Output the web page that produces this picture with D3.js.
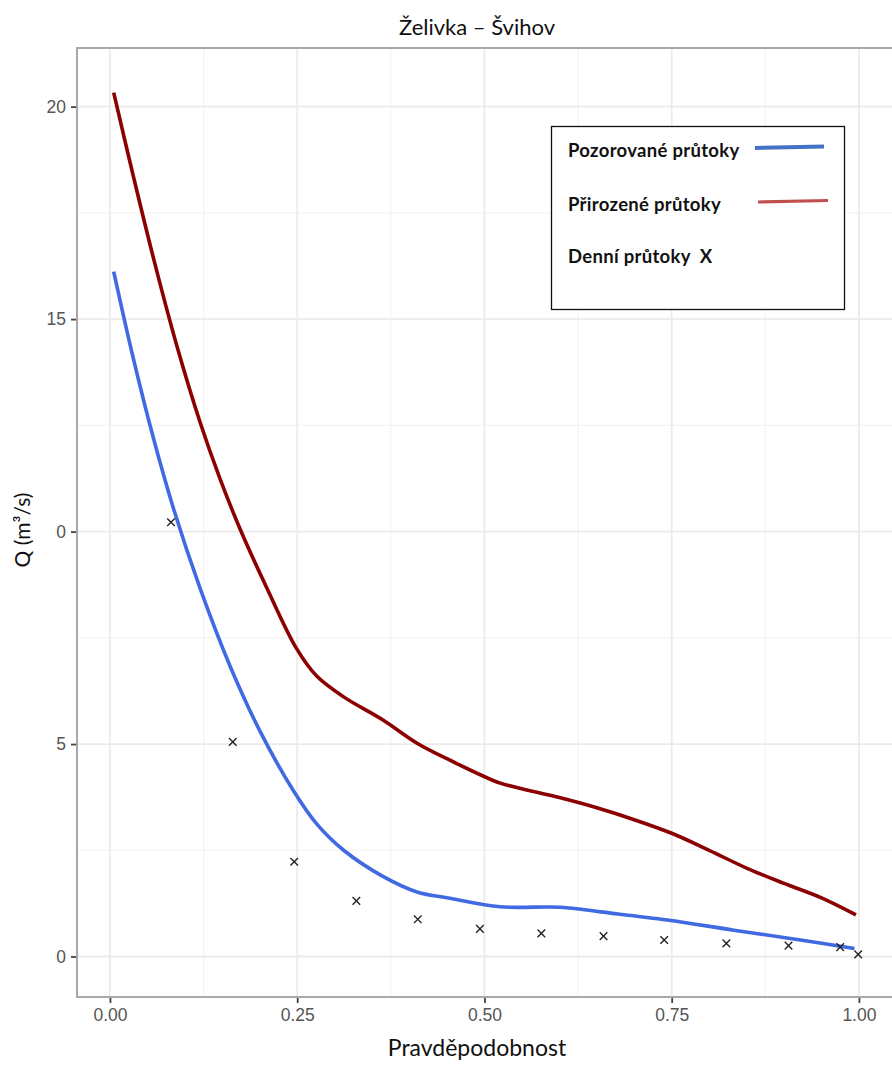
<!DOCTYPE html>
<html>
<head>
<meta charset="utf-8">
<script src="https://cdn.jsdelivr.net/npm/d3@7"></script>
<style>
  html, body { margin: 0; padding: 0; background: #fff; }
  svg { display: block; }
</style>
</head>
<body>
<script>
// ---------- data ----------
const titleText = "Želivka – Švihov";
const xTitle = "Pravděpodobnost";
const yTitle = "Q (m³/s)";

const xTicks = [0, 0.25, 0.5, 0.75, 1];
const xTickLabels = ["0.00", "0.25", "0.50", "0.75", "1.00"];
const yTicks = [0, 5, 10, 15, 20];
const yTickLabels = ["0", "5", "0", "15", "20"];
const xMinor = [0.125, 0.375, 0.625, 0.875];
const yMinor = [2.5, 7.5, 12.5, 17.5];

// Přirozené průtoky (natural flows)
const naturalP = [0.005, 0.031, 0.058, 0.089, 0.120, 0.147, 0.174, 0.209, 0.249, 0.276, 0.312, 0.365, 0.410, 0.454, 0.521, 0.55, 0.60, 0.65, 0.70, 0.75, 0.80, 0.85, 0.90, 0.95, 0.996];
const naturalQ = [20.33, 18.38, 16.44, 14.39, 12.59, 11.24, 10.05, 8.69, 7.25, 6.6, 6.11, 5.56, 5.02, 4.62, 4.08, 3.95, 3.74, 3.50, 3.22, 2.90, 2.50, 2.08, 1.72, 1.38, 0.98];

// Pozorované průtoky (observed flows)
const observedP = [0.005, 0.031, 0.058, 0.085, 0.120, 0.160, 0.201, 0.245, 0.276, 0.312, 0.365, 0.410, 0.454, 0.521, 0.602, 0.655, 0.744, 0.833, 0.922, 0.994];
const observedQ = [16.12, 14.09, 12.2, 10.53, 8.68, 6.85, 5.28, 3.9, 3.12, 2.5, 1.88, 1.52, 1.37, 1.17, 1.16, 1.05, 0.86, 0.62, 0.39, 0.19];

// Denní průtoky (daily flows)
const dailyP = [0.0815, 0.164, 0.246, 0.329, 0.411, 0.494, 0.576, 0.659, 0.740, 0.823, 0.906, 0.975, 0.999];
const dailyQ = [10.22, 5.05, 2.23, 1.31, 0.875, 0.65, 0.545, 0.48, 0.39, 0.31, 0.255, 0.22, 0.05];

const legendItems = ["Pozorované průtoky", "Přirozené průtoky", "Denní průtoky  X"];

// ---------- layout ----------
const W = 892, H = 1065;
const panel = { left: 77, top: 48, right: 893, bottom: 997 };

const svg = d3.select("body").append("svg").attr("width", W).attr("height", H);

const x = d3.scaleLinear().domain([-0.044, 1.0455]).range([panel.left, panel.right]);
const y = d3.scaleLinear().domain([-0.953, 21.38]).range([panel.bottom, panel.top]);

const calibri = "Lato, 'Open Sans', sans-serif";
const arial = "'Liberation Sans', Arial, sans-serif";

// grid
const grid = svg.append("g");
grid.selectAll(".ymin").data(yMinor).join("line")
  .attr("x1", panel.left).attr("x2", panel.right)
  .attr("y1", d => y(d)).attr("y2", d => y(d))
  .attr("stroke", "#F3F3F3").attr("stroke-width", 1.2);
grid.selectAll(".xmin").data(xMinor).join("line")
  .attr("y1", panel.top).attr("y2", panel.bottom)
  .attr("x1", d => x(d)).attr("x2", d => x(d))
  .attr("stroke", "#F3F3F3").attr("stroke-width", 1.2);
grid.selectAll(".ymaj").data(yTicks).join("line")
  .attr("x1", panel.left).attr("x2", panel.right)
  .attr("y1", d => y(d)).attr("y2", d => y(d))
  .attr("stroke", "#EBEBEB").attr("stroke-width", 1.8);
grid.selectAll(".xmaj").data(xTicks).join("line")
  .attr("y1", panel.top).attr("y2", panel.bottom)
  .attr("x1", d => x(d)).attr("x2", d => x(d))
  .attr("stroke", "#EBEBEB").attr("stroke-width", 1.8);

// curves
const natural = naturalP.map((p, i) => [p, naturalQ[i]]);
const observed = observedP.map((p, i) => [p, observedQ[i]]);
const line = d3.line().x(d => x(d[0])).y(d => y(d[1])).curve(d3.curveCatmullRom.alpha(0.5));

svg.append("path").attr("d", line(natural)).attr("fill", "none")
  .attr("stroke", "#8B0000").attr("stroke-width", 3.6).attr("stroke-linecap", "butt");
svg.append("path").attr("d", line(observed)).attr("fill", "none")
  .attr("stroke", "#4169E1").attr("stroke-width", 3.6).attr("stroke-linecap", "butt");

// daily crosses
const cs = 3.8;
const crosses = svg.append("g").selectAll("g").data(dailyP.map((p, i) => [p, dailyQ[i]])).join("g")
  .attr("transform", d => `translate(${x(d[0])},${y(d[1])})`);
crosses.append("path")
  .attr("d", `M${-cs},${-cs}L${cs},${cs}M${-cs},${cs}L${cs},${-cs}`)
  .attr("stroke", "#222").attr("stroke-width", 1.4).attr("fill", "none");

// panel border (left, top, bottom visible)
svg.append("rect")
  .attr("x", panel.left).attr("y", panel.top)
  .attr("width", panel.right - panel.left).attr("height", panel.bottom - panel.top)
  .attr("fill", "none").attr("stroke", "#A8A8A8").attr("stroke-width", 2);

// axes
const xAxis = d3.axisBottom(x).tickValues(xTicks).tickFormat((d, i) => xTickLabels[i]).tickSize(5).tickPadding(6);
const yAxis = d3.axisLeft(y).tickValues(yTicks).tickFormat((d, i) => yTickLabels[i]).tickSize(5).tickPadding(5);

const gx = svg.append("g").attr("transform", `translate(0,${panel.bottom + 1})`).call(xAxis);
const gy = svg.append("g").attr("transform", `translate(${panel.left - 1},0)`).call(yAxis);
[gx, gy].forEach(g => {
  g.select(".domain").remove();
  g.selectAll(".tick line").attr("stroke", "#444").attr("stroke-width", 1.8);
  g.selectAll(".tick text").attr("fill", "#555").attr("font-family", arial).attr("font-size", 17.5);
});

// titles
svg.append("text").attr("x", 477).attr("y", 35).attr("text-anchor", "middle")
  .attr("font-family", calibri).attr("font-size", 22).attr("fill", "#111").text(titleText);
svg.append("text").attr("x", 477).attr("y", 1056).attr("text-anchor", "middle")
  .attr("font-family", calibri).attr("font-size", 23).attr("fill", "#111").text(xTitle);
svg.append("text").attr("transform", "translate(30,530) rotate(-90)").attr("text-anchor", "middle")
  .attr("font-family", calibri).attr("font-size", 21).attr("fill", "#111").text(yTitle);

// legend
const lg = svg.append("g");
lg.append("rect").attr("x", 551.5).attr("y", 126.5).attr("width", 293).attr("height", 183)
  .attr("fill", "#fff").attr("stroke", "#111").attr("stroke-width", 1.3);
const legY = [157, 211, 263];
lg.selectAll("text").data(legendItems).join("text")
  .attr("x", 568).attr("y", (d, i) => legY[i])
  .attr("font-family", calibri).attr("font-weight", "bold").attr("font-size", 18.5)
  .attr("letter-spacing", 0.3)
  .style("white-space", "pre")
  .attr("fill", "#111").text(d => d);
lg.append("line").attr("x1", 755).attr("x2", 824).attr("y1", 148).attr("y2", 146.5)
  .attr("stroke", "#4472C4").attr("stroke-width", 4);
lg.append("line").attr("x1", 758).attr("x2", 828).attr("y1", 202).attr("y2", 200.5)
  .attr("stroke", "#C0504D").attr("stroke-width", 3.2);
</script>
</body>
</html>
